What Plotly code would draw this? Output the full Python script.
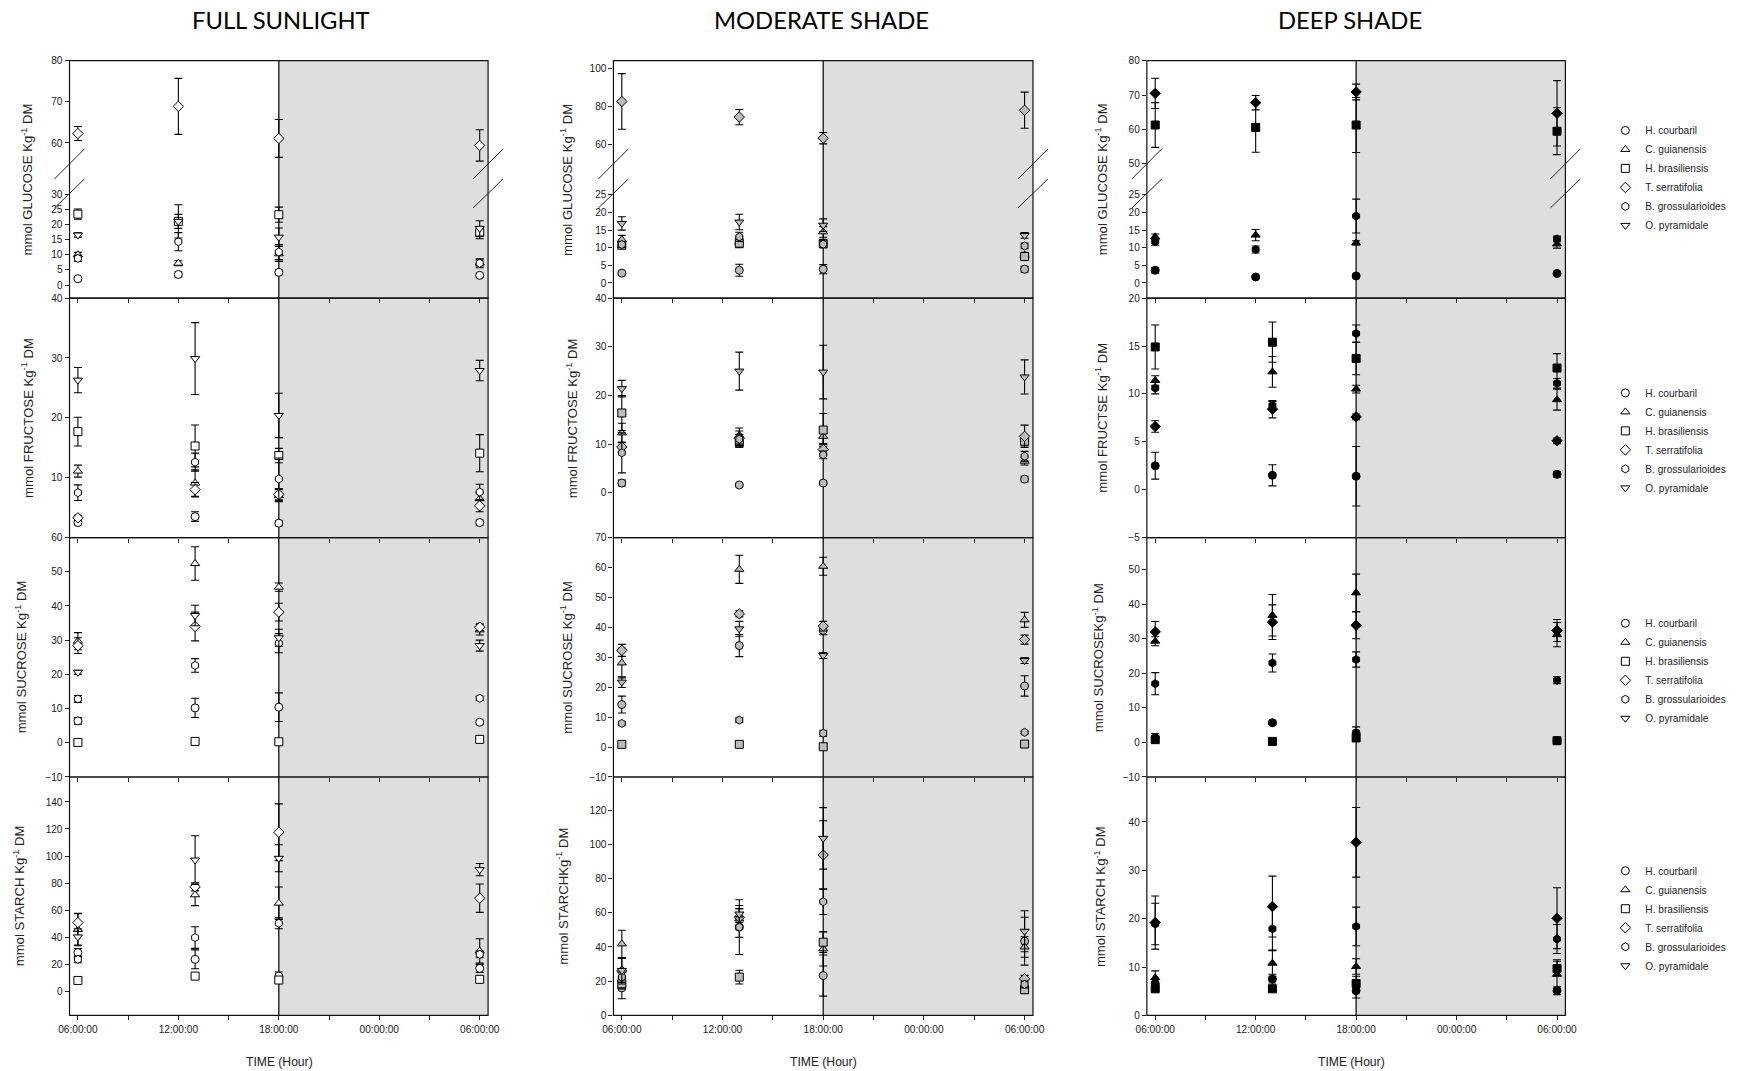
import plotly.graph_objects as go

# The captured page appears scaled by ~0.988 with an 8px body margin, so every
# window-pixel position below is mapped into figure pixels before use.
PAGE_W, PAGE_H = 1745, 1071
BODY_MARGIN = 8
S = 0.988
NUDGE_X, NUDGE_Y = -2.0, 2.5
W = round(PAGE_W / S - BODY_MARGIN)
H = round(PAGE_H / S - BODY_MARGIN)

SPECIES = ["H. courbaril", "C. guianensis", "H. brasiliensis", "T. serratifolia",
           "B. grossularioides", "O. pyramidale"]
SYMBOLS = ["circle", "triangle-up", "square", "diamond", "hexagon", "triangle-down"]

TIME_TICKS = [6, 12, 18, 24, 30]
TIME_LABELS = ["06:00:00", "12:00:00", "18:00:00", "00:00:00", "06:00:00"]
TIME_MINOR = [9, 15, 21, 27]

COLUMN_TITLES = ["FULL SUNLIGHT", "MODERATE SHADE", "DEEP SHADE"]
Y_TITLES = [
    ["mmol GLUCOSE Kg<sup>-1</sup> DM", "mmol FRUCTOSE Kg<sup>-1</sup> DM",
     "mmol SUCROSE Kg<sup>-1</sup> DM", "mmol STARCH Kg<sup>-1</sup> DM"],
    ["mmol GLUCOSE Kg<sup>-1</sup> DM", "mmol FRUCTOSE Kg<sup>-1</sup> DM",
     "mmol SUCROSE Kg<sup>-1</sup> DM", "mmol STARCHKg<sup>-1</sup> DM"],
    ["mmol GLUCOSE Kg<sup>-1</sup> DM", "mmol FRUCTSE Kg<sup>-1</sup> DM",
     "mmol SUCROSEKg<sup>-1</sup> DM", "mmol STARCH Kg<sup>-1</sup> DM"],
]

# ---------------- FULL SUNLIGHT (rows: species in SPECIES order) ----------------
FS_GLU_T = [6, 12, 18, 30]
FS_GLU = [[2.1, 3.5, 4.2, 3.2], [10.0, 7.2, 10.3, 7.3], [23.4, 21.0, 23.2, 17.3],
          [62.3, 68.9, 61.1, 59.4], [8.8, 14.3, 10.9, 7.2], [16.5, 21.0, 15.8, 18.7]]
FS_GLU_SE = [[0.4, 0.8, 0.8, 0.5], [0.8, 0.8, 2.5, 1.0], [1.7, 2.3, 2.5, 2.0],
             [1.7, 6.8, 4.6, 3.8], [1.0, 3.0, 2.5, 1.5], [0.7, 5.5, 3.0, 2.5]]

FS_FRU_T = [6, 13, 18, 30]
FS_FRU = [[2.5, 3.5, 2.4, 2.5], [11.1, 9.1, 7.0, 6.5], [17.7, 15.3, 13.7, 14.1],
          [3.3, 8.0, 7.2, 5.3], [7.5, 12.6, 9.8, 7.6], [26.3, 29.9, 20.4, 27.9]]
FS_FRU_SE = [[0.4, 0.8, 0.4, 0.4], [1.0, 2.2, 1.0, 1.0], [2.4, 3.5, 1.2, 3.1],
             [0.4, 1.2, 1.0, 1.0], [1.3, 1.5, 3.5, 1.3], [2.1, 6.0, 3.7, 1.7]]

FS_SUC_T = [6, 13, 18, 30]
FS_SUC = [[6.4, 10.2, 10.4, 6.0], [29.7, 52.4, 45.5, 33.0], [0.1, 0.4, 0.3, 1.0],
          [28.4, 34.0, 38.2, 33.8], [12.8, 22.6, 29.1, 13.0], [20.6, 37.2, 30.7, 28.4]]
FS_SUC_SE = [[1.0, 2.8, 4.2, 0.6], [2.5, 4.9, 1.2, 1.5], [0.2, 0.3, 0.2, 0.3],
             [2.3, 4.2, 2.6, 1.0], [1.0, 2.0, 2.8, 0.6], [0.6, 3.0, 2.5, 1.6]]

FS_STA_T = [6, 13, 18, 30]
FS_STA = [[28.5, 23.5, 11.1, 16.8], [45.6, 71.3, 65.1, 29.7], [7.9, 11.1, 8.2, 8.7],
          [50.7, 77.2, 117.6, 68.8], [23.5, 39.6, 50.2, 27.2], [40.1, 97.0, 98.3, 89.9]]
FS_STA_SE = [[3.0, 7.0, 3.0, 3.0], [12.0, 8.0, 12.0, 9.0], [1.0, 1.0, 1.0, 1.0],
             [6.5, 3.0, 21.0, 10.5], [2.5, 8.0, 4.0, 2.5], [6.0, 18.0, 10.0, 4.5]]

# ---------------- MODERATE SHADE ----------------
MS_GLU_T = [6, 13, 18, 30]
MS_GLU = [[2.8, 3.6, 3.9, 3.9], [12.3, 11.6, 14.5, 7.9], [10.7, 11.3, 11.2, 7.5],
          [82.8, 74.6, 63.5, 78.2], [10.9, 13.1, 11.0, 10.5], [16.9, 17.3, 16.4, 13.5]]
MS_GLU_SE = [[0.3, 1.7, 1.3, 0.8], [1.2, 1.5, 1.5, 0.8], [0.8, 1.3, 1.2, 0.8],
             [14.6, 4.0, 3.0, 9.5], [0.8, 1.3, 1.0, 0.8], [1.9, 2.2, 1.8, 0.8]]

MS_FRU_T = [6, 13, 18, 30]
MS_FRU = [[2.0, 1.6, 2.0, 2.8], [12.3, 11.8, 11.6, 6.5], [16.4, 10.3, 12.9, 10.6],
          [9.4, 11.2, 8.9, 11.6], [8.2, 11.0, 7.8, 7.5], [21.4, 25.0, 24.8, 23.8]]
MS_FRU_SE = [[0.6, 0.3, 0.3, 0.6], [2.0, 1.5, 1.5, 0.8], [3.6, 1.0, 3.4, 1.0],
             [1.0, 1.5, 1.0, 2.3], [4.1, 1.0, 0.8, 1.0], [1.7, 3.9, 5.5, 3.5]]

MS_SUC_T = [6, 13, 18, 30]
MS_SUC = [[14.2, 33.9, 39.0, 20.4], [28.1, 59.4, 60.4, 42.5], [0.9, 0.9, 0.1, 1.0],
          [32.3, 44.5, 40.4, 35.9], [7.9, 9.0, 4.6, 4.9], [21.7, 39.5, 30.6, 28.9]]
MS_SUC_SE = [[2.8, 3.7, 1.5, 3.4], [5.0, 4.7, 3.0, 2.5], [0.5, 0.5, 0.3, 0.4],
             [2.0, 1.0, 1.6, 1.5], [0.6, 0.8, 1.0, 0.4], [1.8, 2.5, 1.0, 1.0]]

MS_STA_T = [6, 13, 18, 30]
MS_STA = [[16.1, 51.6, 23.3, 43.4], [41.8, 56.4, 38.9, 40.0], [18.5, 22.4, 42.8, 15.0],
          [25.9, 57.4, 93.8, 21.4], [22.4, 51.6, 66.5, 18.1], [26.3, 59.3, 103.5, 49.2]]
MS_STA_SE = [[6.4, 16.0, 12.0, 14.0], [8.0, 6.0, 10.0, 6.0], [3.0, 4.0, 6.0, 2.0],
             [7.5, 5.0, 20.0, 2.0], [3.0, 6.0, 7.5, 2.0], [7.0, 5.0, 18.0, 12.0]]

# ---------------- DEEP SHADE (no O. pyramidale) ----------------
DS_GLU_T = [6, 12, 18, 30]
DS_GLU = [[3.6, 1.7, 2.0, 2.7], [13.1, 13.6, 11.4, 11.1], [61.3, 60.6, 61.3, 59.5],
          [70.5, 67.8, 70.9, 64.7], [11.7, 9.5, 19.0, 12.5], [None, None, None, None]]
DS_GLU_SE = [[0.8, 0.3, 0.3, 0.4], [0.8, 1.6, 0.6, 1.2], [6.5, 7.2, 8.0, 6.8],
             [4.4, 2.1, 2.3, 9.5], [1.0, 1.0, 4.8, 0.8], [None, None, None, None]]

DS_FRU_T = [6, 13, 18, 30]
DS_FRU = [[2.5, 1.5, 1.4, 1.6], [11.4, 12.3, 10.5, 9.4], [14.9, 15.4, 13.7, 12.7],
          [6.6, 8.4, 7.6, 5.1], [10.6, 8.8, 16.3, 11.1], [None, None, None, None]]
DS_FRU_SE = [[1.4, 1.1, 3.1, 0.3], [0.5, 1.6, 0.4, 1.1], [2.3, 2.1, 1.7, 1.5],
             [0.6, 0.9, 0.3, 0.3], [0.6, 0.4, 0.9, 0.5], [None, None, None, None]]

DS_SUC_T = [6, 13, 18, 30]
DS_SUC = [[1.3, 5.7, 2.7, 0.5], [29.3, 36.8, 43.3, 31.2], [0.8, 0.3, 1.3, 0.5],
          [32.0, 34.8, 33.9, 32.4], [17.0, 23.0, 24.0, 18.0], [None, None, None, None]]
DS_SUC_SE = [[1.3, 0.5, 1.8, 0.4], [1.3, 6.0, 5.4, 3.5], [0.4, 0.3, 0.6, 0.3],
             [3.0, 5.0, 3.9, 3.2], [3.2, 2.6, 2.2, 1.0], [None, None, None, None]]

DS_STA_T = [6, 13, 18, 30]
DS_STA = [[6.6, 7.5, 5.1, 5.1], [7.8, 10.8, 10.1, 8.5], [5.5, 5.5, 6.6, 9.7],
          [19.2, 22.5, 35.8, 20.1], [18.9, 17.9, 18.4, 15.8], [None, None, None, None]]
DS_STA_SE = [[1.0, 1.0, 1.5, 0.8], [1.4, 2.7, 1.6, 3.0], [0.5, 0.5, 1.5, 1.5],
             [5.5, 6.3, 7.2, 6.3], [4.3, 4.5, 4.0, 3.0], [None, None, None, None]]

PANELS = [
    [(FS_GLU_T, FS_GLU, FS_GLU_SE), (FS_FRU_T, FS_FRU, FS_FRU_SE),
     (FS_SUC_T, FS_SUC, FS_SUC_SE), (FS_STA_T, FS_STA, FS_STA_SE)],
    [(MS_GLU_T, MS_GLU, MS_GLU_SE), (MS_FRU_T, MS_FRU, MS_FRU_SE),
     (MS_SUC_T, MS_SUC, MS_SUC_SE), (MS_STA_T, MS_STA, MS_STA_SE)],
    [(DS_GLU_T, DS_GLU, DS_GLU_SE), (DS_FRU_T, DS_FRU, DS_FRU_SE),
     (DS_SUC_T, DS_SUC, DS_SUC_SE), (DS_STA_T, DS_STA, DS_STA_SE)],
]

# y-axis ranges and ticks: [column][row]; glucose has lower part + upper part
Y_RANGES = [
    [[-4.3, 36.0], [0, 40], [-10, 60], [-18, 158.5]],
    [[-4.3, 30.4], [-9.2, 40], [-10, 70], [0, 139.4]],
    [[-4.3, 30.4], [-5, 20], [-10, 59.3], [0, 49.3]],
]
Y_TICKS = [
    [[0, 5, 10, 15, 20, 25, 30], [10, 20, 30, 40], [-10, 0, 10, 20, 30, 40, 50, 60],
     [0, 20, 40, 60, 80, 100, 120, 140]],
    [[0, 5, 10, 15, 20, 25], [0, 10, 20, 30, 40], [-10, 0, 10, 20, 30, 40, 50, 60, 70],
     [0, 20, 40, 60, 80, 100, 120]],
    [[0, 5, 10, 15, 20, 25], [-5, 0, 5, 10, 15, 20], [-10, 0, 10, 20, 30, 40, 50],
     [0, 10, 20, 30, 40]],
]
GLU_UPPER_RANGES = [[52.0, 80.0], [43.7, 104.2], [46.5, 80.0]]
GLU_UPPER_TICKS = [[60, 70, 80], [60, 80, 100], [50, 60, 70, 80]]

# ---------------- layout geometry (window pixels) ----------------
COL_L = [68.5, 613, 1147]
COL_R = [487.5, 1033, 1566]
ROW_TOP = [61, 298, 537, 776]
ROW_BOT = [298, 537, 776, 1014]
GLU_SPLIT = 176
X_RANGE = [5.5, 30.5]

FILLS = ["white", "#bcbcbc", "black"]
YTITLE_X = [[26, 27, 20, 18], [566, 572, 566, 562], [1102, 1102, 1098, 1100]]
TITLE_CX = [280, 821, 1350]
XTITLE_CX = [279, 823, 1352]
LEGEND_CY = [178, 440, 670, 917]
FONT = "Liberation Sans, Arial, sans-serif"


def fx(p):
    return ((p + NUDGE_X) / S - BODY_MARGIN) / W


def fy(p):
    return 1 - ((p + NUDGE_Y) / S - BODY_MARGIN) / H


def fs(size):
    return size / S


fig = go.Figure()
layout = dict(width=W, height=H, margin=dict(l=0, r=0, t=0, b=0), autosize=False,
              paper_bgcolor="white", plot_bgcolor="rgba(0,0,0,0)", showlegend=True,
              font=dict(family=FONT, color="#222"))

tickfont = dict(family=FONT, size=fs(10), color="#222")


def yaxis_cfg(dom, rng, ticks, anchor):
    return dict(domain=dom, range=rng, tickvals=ticks, ticks="outside", ticklen=4,
                tickwidth=1, tickcolor="#222", showgrid=False, zeroline=False,
                showline=False, anchor=anchor, tickfont=tickfont, fixedrange=True)


shapes = []
annotations = []

for c in range(3):
    for r in range(4):
        i = c * 4 + r + 1
        xn = "x" if i == 1 else f"x{i}"
        yn = "y" if i == 1 else f"y{i}"
        xkey = "xaxis" if i == 1 else f"xaxis{i}"
        ykey = "yaxis" if i == 1 else f"yaxis{i}"
        layout[xkey] = dict(
            domain=[fx(COL_L[c]), fx(COL_R[c])], range=X_RANGE, tickvals=TIME_TICKS,
            ticktext=TIME_LABELS, showticklabels=(r == 3), ticks="outside", ticklen=4,
            tickwidth=1, tickcolor="#222", showgrid=False, zeroline=False, showline=False,
            anchor=yn, tickfont=tickfont, fixedrange=True,
            minor=dict(tickvals=TIME_MINOR, ticks="outside", ticklen=4, tickwidth=1,
                       tickcolor="#222", showgrid=False))
        top = GLU_SPLIT if r == 0 else ROW_TOP[r]
        layout[ykey] = yaxis_cfg([fy(ROW_BOT[r]), fy(top)], Y_RANGES[c][r], Y_TICKS[c][r], xn)
        targets = [yn]
        if r == 0:
            uidx = 13 + c
            layout[f"yaxis{uidx}"] = yaxis_cfg([fy(GLU_SPLIT), fy(ROW_TOP[0])],
                                               GLU_UPPER_RANGES[c], GLU_UPPER_TICKS[c], xn)
            targets.append(f"y{uidx}")

        times, means, ses = PANELS[c][r]
        for s, name in enumerate(SPECIES):
            if all(v is None for v in means[s]):
                continue
            for k, ytarget in enumerate(targets):
                show = (c == 0 and k == 0)
                fig.add_trace(go.Scatter(
                    x=times, y=means[s], xaxis=xn, yaxis=ytarget, mode="markers",
                    name=name, showlegend=show,
                    legend="legend" if r == 0 else f"legend{r + 1}",
                    marker=dict(symbol=SYMBOLS[s], size=8, color=FILLS[c],
                                line=dict(color="black", width=1)),
                    error_y=dict(type="data", array=ses[s], visible=True, color="black",
                                 thickness=1.1, width=4),
                    cliponaxis=True, hoverinfo="skip"))

        # panel border
        shapes.append(dict(type="rect", xref="paper", yref="paper",
                           x0=fx(COL_L[c]), x1=fx(COL_R[c]), y0=fy(ROW_BOT[r]), y1=fy(ROW_TOP[r]),
                           line=dict(color="#111", width=1.2), fillcolor="rgba(0,0,0,0)",
                           layer="above"))
        # y title
        annotations.append(dict(text=Y_TITLES[c][r], xref="paper", yref="paper",
                                x=fx(YTITLE_X[c][r]),
                                y=fy((ROW_TOP[r] + ROW_BOT[r]) / 2), textangle=-90,
                                showarrow=False, xanchor="center", yanchor="middle",
                                font=dict(family=FONT, size=fs(13), color="#222")))

    xref_col = "x" if c == 0 else f"x{c * 4 + 1}"
    # night shading + dusk line
    shapes.append(dict(type="rect", xref=xref_col, yref="paper", x0=18, x1=X_RANGE[1],
                       y0=fy(ROW_BOT[3]), y1=fy(ROW_TOP[0]), fillcolor="#dedede",
                       line=dict(width=0), layer="below"))
    shapes.append(dict(type="line", xref=xref_col, yref="paper", x0=18, x1=18,
                       y0=fy(ROW_BOT[3]), y1=fy(ROW_TOP[0]),
                       line=dict(color="#111", width=1.3), layer="below"))
    # axis break marks
    for xa in (COL_L[c], COL_R[c]):
        for (ya, yb) in ((179, 149), (208, 179)):
            shapes.append(dict(type="line", xref="paper", yref="paper",
                               x0=fx(xa - 15), x1=fx(xa + 15), y0=fy(ya), y1=fy(yb),
                               line=dict(color="#222", width=1), layer="above"))
    # column title and x title
    annotations.append(dict(text=COLUMN_TITLES[c], xref="paper", yref="paper",
                            x=fx(TITLE_CX[c]), y=fy(20), showarrow=False,
                            xanchor="center", yanchor="middle",
                            font=dict(family="Lato, Liberation Sans, sans-serif",
                                      size=fs(23.5), color="black")))
    annotations.append(dict(text="TIME (Hour)", xref="paper", yref="paper",
                            x=fx(XTITLE_CX[c]), y=fy(1061), showarrow=False,
                            xanchor="center", yanchor="middle",
                            font=dict(family=FONT, size=fs(12), color="#222")))

for r in range(4):
    key = "legend" if r == 0 else f"legend{r + 1}"
    layout[key] = dict(x=fx(1606), y=fy(LEGEND_CY[r]), xanchor="left", yanchor="middle",
                       bgcolor="rgba(0,0,0,0)", borderwidth=0, tracegroupgap=0,
                       font=dict(family="Liberation Sans Narrow, Arial Narrow, Liberation Sans, sans-serif",
                                 size=fs(10), color="#222"),
                       itemclick=False, itemdoubleclick=False)

layout["shapes"] = shapes
layout["annotations"] = annotations
fig.update_layout(**layout)
fig.write_html("out.html")
